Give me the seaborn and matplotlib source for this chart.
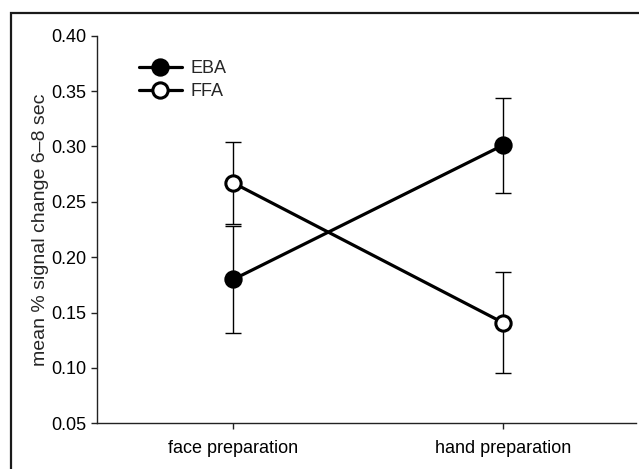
import pandas as pd
import seaborn as sns
import matplotlib.pyplot as plt
from matplotlib.patches import Rectangle

# values
conditions = ["face preparation", "hand preparation"]
eba_mean = [0.180, 0.301]
eba_err = [0.048, 0.043]
ffa_mean = [0.267, 0.141]
ffa_err = [0.037, 0.046]

df = pd.DataFrame({
    "condition": conditions * 2,
    "signal": eba_mean + ffa_mean,
    "err": eba_err + ffa_err,
    "region": ["EBA"] * 2 + ["FFA"] * 2,
})

sns.set_style("ticks")
plt.rcParams["font.family"] = ["Liberation Sans", "DejaVu Sans"]

fig = plt.figure(figsize=(6.39, 4.69), dpi=100)
ax = fig.add_axes([0.152, 0.0974, 0.843, 0.8265])

# error bars first so the markers sit on top
for reg in ["EBA", "FFA"]:
    sub = df[df["region"] == reg]
    ax.errorbar([0, 1], sub["signal"], yerr=sub["err"], fmt="none",
                ecolor="black", elinewidth=1, capsize=6, capthick=1, zorder=2)

n_before = len(ax.lines)
sns.pointplot(data=df, x="condition", y="signal", hue="region",
              palette=["black", "black"], markers=["o", "o"],
              linestyles=["-", "-"], errorbar=None, ax=ax, legend=False)

lines = ax.lines[n_before:]
for l, reg in zip(lines, ["EBA", "FFA"]):
    l.set_linewidth(2.3)
    l.set_markersize(11)
    l.set_markeredgewidth(2.2)
    l.set_markeredgecolor("black")
    l.set_markerfacecolor("black" if reg == "EBA" else "white")
    l.set_zorder(3)
    l.set_label(reg)

ax.legend(handles=lines, loc="upper left", bbox_to_anchor=(0.064, 0.955),
          frameon=False, fontsize=13, handlelength=2.4, handletextpad=0.45,
          labelspacing=0.32, borderaxespad=0)

ax.set_xlim(-0.506, 1.494)
ax.set_ylim(0.05, 0.40)
ax.set_yticks([0.05, 0.10, 0.15, 0.20, 0.25, 0.30, 0.35, 0.40])
ax.set_yticklabels([f"{v:.2f}" for v in ax.get_yticks()])
ax.set_xlabel("")
ax.set_ylabel("mean % signal change 6\u20138 sec", fontsize=14, labelpad=2)
ax.tick_params(labelsize=13, direction="out", length=4, width=1, colors="#222222",
               labelcolor="black")
ax.tick_params(axis="x", pad=8)
for s in ["top", "right"]:
    ax.spines[s].set_visible(False)
for s in ["left", "bottom"]:
    ax.spines[s].set_linewidth(1)
    ax.spines[s].set_color("#222222")

# outer frame around the figure (right/bottom edges fall off the image)
fig.patches.append(Rectangle((11 / 639, -0.1), 1.2, 1 - 13 / 469 + 0.1,
                             transform=fig.transFigure, fill=False,
                             edgecolor="#1a1a1a", linewidth=1.6))

fig.savefig("out.png", dpi=100)
